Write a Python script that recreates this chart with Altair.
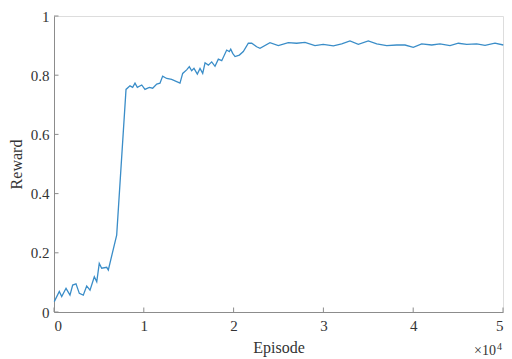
import altair as alt
import pandas as pd

# Episode in units of 1e4, reward
episode = [0.003, 0.059, 0.086, 0.134, 0.178, 0.208, 0.245, 0.282, 0.326, 0.364,
           0.401, 0.449, 0.476, 0.504, 0.531, 0.587, 0.605, 0.698, 0.802, 0.846,
           0.876, 0.902, 0.928, 0.977, 1.013, 1.061, 1.099, 1.144, 1.180, 1.210,
           1.255, 1.310, 1.403, 1.433, 1.477, 1.507, 1.533, 1.559, 1.596, 1.626,
           1.656, 1.682, 1.719, 1.756, 1.793, 1.830, 1.868, 1.923, 1.952, 1.968,
           1.990, 2.016, 2.064, 2.108, 2.164, 2.202, 2.257, 2.294, 2.405, 2.498,
           2.609, 2.702, 2.795, 2.906, 2.998, 3.111, 3.204, 3.296, 3.389, 3.500,
           3.594, 3.705, 3.816, 3.909, 4.001, 4.094, 4.206, 4.298, 4.410, 4.503,
           4.596, 4.707, 4.800, 4.911, 5.003]
reward = [0.035, 0.069, 0.052, 0.080, 0.057, 0.091, 0.095, 0.063, 0.057, 0.088,
          0.074, 0.119, 0.102, 0.164, 0.148, 0.151, 0.142, 0.260, 0.752, 0.764,
          0.759, 0.773, 0.759, 0.767, 0.752, 0.759, 0.756, 0.770, 0.773, 0.797,
          0.789, 0.786, 0.773, 0.806, 0.818, 0.829, 0.815, 0.823, 0.804, 0.823,
          0.806, 0.842, 0.834, 0.845, 0.830, 0.854, 0.849, 0.885, 0.880, 0.888,
          0.874, 0.863, 0.868, 0.880, 0.908, 0.908, 0.896, 0.891, 0.910, 0.900,
          0.910, 0.908, 0.911, 0.900, 0.904, 0.899, 0.906, 0.916, 0.904, 0.916,
          0.906, 0.900, 0.902, 0.902, 0.894, 0.906, 0.902, 0.906, 0.900, 0.908,
          0.904, 0.906, 0.901, 0.908, 0.902]

x_ticks = [0, 1, 2, 3, 4, 5]
y_ticks = [0, 0.2, 0.4, 0.6, 0.8, 1]

df = pd.DataFrame({"episode": episode, "reward": reward})
xt = pd.DataFrame({"v": x_ticks})
yt = pd.DataFrame({"v": y_ticks})

FONT = "'Liberation Serif', 'Times New Roman', serif"
AX = "#8c8c8c"
TXT = "#333333"

xscale = alt.Scale(domain=[0, 5], nice=False, zero=False)
yscale = alt.Scale(domain=[0, 1], nice=False)

line = alt.Chart(df).mark_line(color="#3a8dc8", strokeWidth=1.3).encode(
    x=alt.X("episode:Q", scale=xscale,
            axis=alt.Axis(values=x_ticks, title="Episode", grid=False, ticks=False,
                          domainColor=AX, labelFont=FONT, labelFontSize=15,
                          labelColor=TXT, labelPadding=6, titleFont=FONT,
                          titleFontSize=16, titleFontWeight="normal",
                          titleColor=TXT, titlePadding=6, format="d")),
    y=alt.Y("reward:Q", scale=yscale,
            axis=alt.Axis(values=y_ticks, title="Reward", grid=False, ticks=False,
                          domainColor=AX, labelFont=FONT, labelFontSize=15,
                          labelColor=TXT, labelPadding=5, titleFont=FONT,
                          titleFontSize=16, titleFontWeight="normal",
                          titleColor=TXT, titlePadding=6,
                          labelExpr="datum.value == 0 || datum.value == 1 ? format(datum.value, 'd') : format(datum.value, '.1f')")),
)

xtick_marks = alt.Chart(xt).mark_rule(color=AX, strokeWidth=1).encode(
    x=alt.X("v:Q", scale=xscale), y=alt.value(296), y2=alt.value(291.5))
ytick_marks = alt.Chart(yt).mark_rule(color=AX, strokeWidth=1).encode(
    y=alt.Y("v:Q", scale=yscale), x=alt.value(0), x2=alt.value(4.5))

mult = alt.Chart(pd.DataFrame({"t": ["×10"]})).mark_text(
    font=FONT, fontSize=14, color=TXT, align="right", baseline="alphabetic"
).encode(text="t:N", x=alt.value(442), y=alt.value(339))
expo = alt.Chart(pd.DataFrame({"t": ["4"]})).mark_text(
    font=FONT, fontSize=10, color=TXT, align="left", baseline="alphabetic"
).encode(text="t:N", x=alt.value(443), y=alt.value(334))

chart = alt.layer(line, xtick_marks, ytick_marks, mult, expo).properties(
    width=449, height=296,
    autosize=alt.AutoSizeParams(type="none"),
    padding={"left": 54, "top": 16, "right": 9, "bottom": 47},
).configure_view(stroke=None).configure(background="white")

chart.save("out.html", embed_options={"renderer": "svg", "actions": False})
